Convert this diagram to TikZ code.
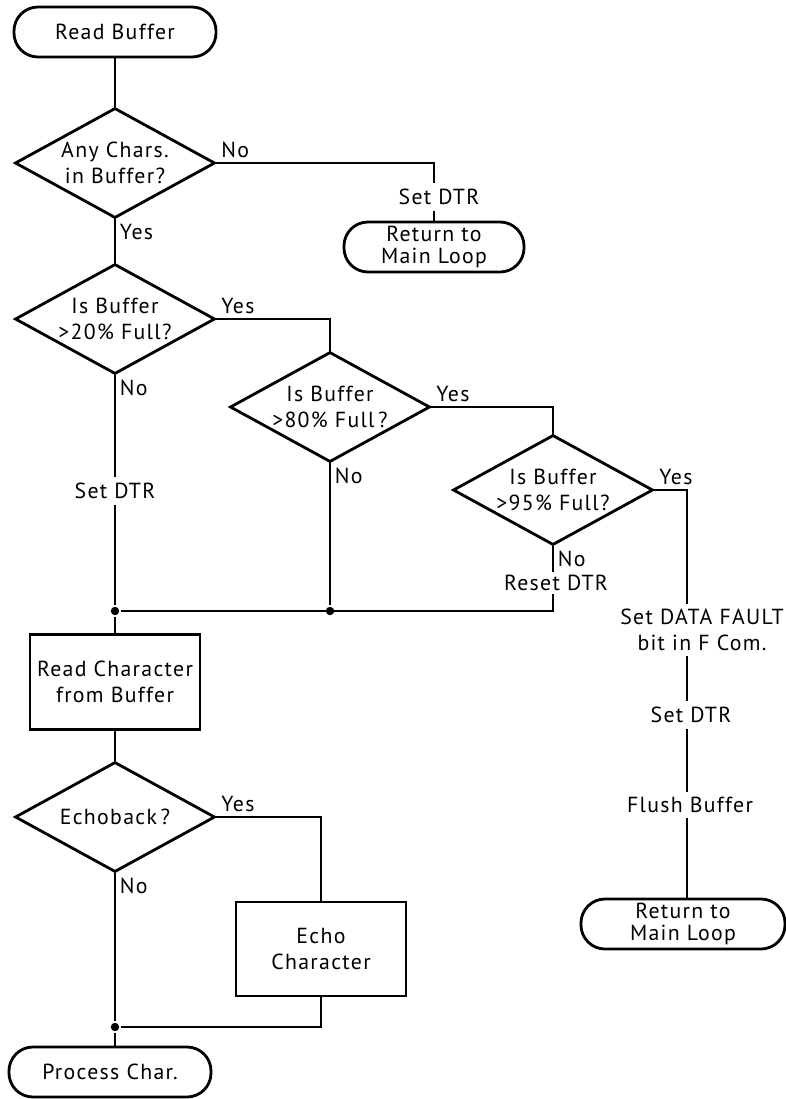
\documentclass[tikz,border=0pt]{standalone}
\usepackage{fontspec}
\setmainfont{PT Sans}[LetterSpace=6]
\usepackage{tikz}
\usetikzlibrary{shapes.geometric}
\usetikzlibrary{quotes}

\begin{document}
\begin{tikzpicture}[x=0.025cm, y=-0.025cm, line width=2pt,
    every node/.style={font=\fontsize{15.5}{18}\selectfont, align=center},
    every edge quotes/.style={inner sep=2.5pt},
    term/.style={draw, rectangle, rounded corners=0.6cm, minimum height=1.25cm, inner sep=1pt, font=\fontsize{15.5}{16}\selectfont},
    decision/.style={draw, diamond, aspect=1.8, minimum width=5cm, minimum height=2.75cm, inner sep=0pt},
    process/.style={draw, rectangle, minimum width=4.25cm, minimum height=2.37cm},
    note/.style={inner sep=3pt},
    elbow/.style={to path={-| (\tikztotarget) \tikztonodes}},
    dot/.style={circle, fill, inner sep=0pt, minimum size=6pt}]

    \useasboundingbox (0, 0) rectangle (786, 1099);

    \node[term, minimum width=5.05cm]   (rb)    at (115, 32)    {Read Buffer};
    \node[decision]                     (d1)    at (115, 163)   {Any Chars.\\in Buffer?};
    \node[note]                         (dtrA)  at (439, 197)   {Set DTR};
    \node[term, minimum width=4.5cm]    (ret1)  at (434, 247)   {Return to\\Main Loop};
    \node[decision]                     (d2)    at (115, 319)   {Is Buffer\\>20\% Full?};
    \node[decision]                     (d3)    at (330, 407)   {Is Buffer\\>80\% Full\,?};
    \node[decision]                     (d4)    at (553, 490)   {Is Buffer\\>95\% Full?};
    \node[note]                         (dtrB)  at (115, 491)   {Set DTR};
    \node[note, inner sep=1pt]          (rst)   at (556, 583)   {Reset DTR};
    \node[note]                         (fault) at (702, 630)   {Set DATA FAULT\\bit in F Com.};
    \node[note]                         (dtrC)  at (691, 715)   {Set DTR};
    \node[note]                         (flush) at (690, 805)   {Flush Buffer};
    \node[term, minimum width=5.1cm]    (ret2)  at (683, 924)   {Return to\\Main Loop};
    \node[process]                      (rc)    at (115, 682)   {Read Character\\from Buffer};
    \node[decision]                     (d5)    at (115, 817)   {Echoback\,?};
    \node[process, minimum height=2.35cm] (echo) at (321, 949)  {Echo\\Character};
    \node[term, minimum width=5.05cm]   (pc)    at (110, 1072)  {Process Char.};

    \node[dot] (j1) at (115, 611)  {};
    \node[dot] (j2) at (330, 611)  {};
    \node[dot] (j3) at (115, 1027) {};
    \coordinate (fx) at (687, 0);


    \draw (rb) edge (d1);
    \draw (d1.east) edge[elbow, "No" {pos=0, anchor=south west}] (ret1.north |- dtrA.north);
    \draw (ret1.north |- dtrA.south) edge (ret1.north);
    \draw (d1.south) edge["Yes" {pos=0, anchor=north west}] (d2.north);
    \draw (d2.east) edge[elbow, "Yes" {pos=0, anchor=south west}] (d3.north);
    \draw (d3.east) edge[elbow, "Yes" {pos=0, anchor=south west}] (d4.north);
    \draw (d4.east) edge[elbow, "Yes" {pos=0, anchor=south west}] (fx |- fault.north);
    \draw (fx |- fault.south) edge (fx |- dtrC.north);
    \draw (fx |- dtrC.south) edge (fx |- flush.north);
    \draw (fx |- flush.south) edge (fx |- ret2.north);

    \draw (d2.south) edge["No" {pos=0, anchor=north west}] (dtrB);
    \draw (dtrB) edge (j1);
    \draw (d3.south) edge["No" {pos=0, anchor=north west}] (j2);
    \draw (d4.south) edge["No" {pos=0, anchor=north west}] (d4.south |- rst.north);
    \draw (d4.south |- rst.south) |- (j1);
    \draw (j1) edge (rc);
    \draw (rc) edge (d5);
    \draw (d5.east) edge[elbow, "Yes" {pos=0, anchor=south west}] (echo.north);
    \draw (d5.south) edge["No" {pos=0, anchor=north west}] (j3);
    \draw (echo.south) |- (j3);
    \draw (j3) -- (j3 |- pc.north);
  \end{tikzpicture}
\end{document}
